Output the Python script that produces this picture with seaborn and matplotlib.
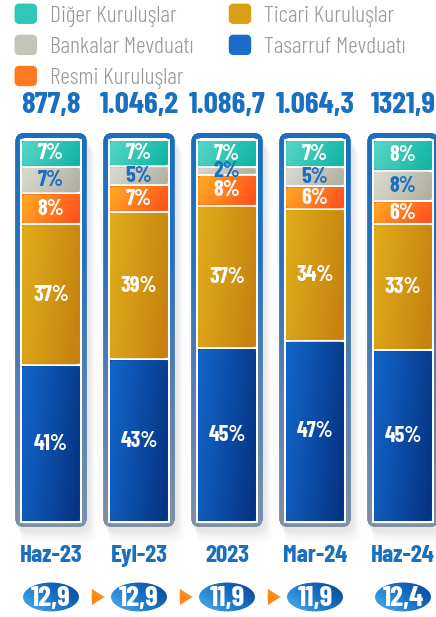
import numpy as np
import pandas as pd
import matplotlib
matplotlib.use("Agg")
import matplotlib.pyplot as plt
import seaborn as sns
from matplotlib.patches import FancyBboxPatch, Ellipse, Patch
from matplotlib.colors import LinearSegmentedColormap
from matplotlib.legend_handler import HandlerPatch

# ---------------- data ----------------
periods = ["Haz-23", "Eyl-23", "2023", "Mar-24", "Haz-24"]
totals = ["877,8", "1.046,2", "1.086,7", "1.064,3", "1321,9"]
ratios = [12.9, 12.9, 11.9, 11.9, 12.4]
# segments listed bottom -> top
tasarruf = [41, 43, 45, 47, 45]
ticari = [37, 39, 37, 34, 33]
resmi = [8, 7, 8, 6, 6]
bankalar = [7, 5, 2, 5, 8]
diger = [7, 7, 7, 7, 8]

seg_names = ["Tasarruf Mevduatı", "Ticari Kuruluşlar", "Resmi Kuruluşlar",
             "Bankalar Mevduatı", "Diğer Kuruluşlar"]
seg_values = [tasarruf, ticari, resmi, bankalar, diger]
seg_colors = ["#0b4db0", "#d49a12", "#ff6a1e", "#c9c9bd", "#22c2b2"]
seg_grad = [("#1268cc", "#06307f"), ("#e2ae1c", "#c47e0e"), ("#ffae22", "#ff4a1e"),
            ("#dcdcd2", "#aeae9e"), ("#5ad8c8", "#0cb2a2")]
seg_text = ["white", "white", "white", "#1a6fc0", "white"]
legend_colors = ["#1a6cc8", "#d9a015", "#ff7a22", "#c4c4b8", "#2ec8b8"]

BLUE = "#1a6fc0"
FONT = ["Barlow Condensed", "DejaVu Sans"]

sns.set_theme(style="white")
plt.rcParams["font.family"] = FONT

W, H = 436, 617
fig = plt.figure(figsize=(W / 100, H / 100), dpi=100)
ax = fig.add_axes([0, 0, 1, 1])

# pixel geometry -> data limits
x0px, dxpx = 51, 88
y0px, ytop = 522, 140
ppu = (y0px - ytop) / 100.0
xlim = (-x0px / dxpx, (W - x0px) / dxpx)
ylim = (-(H - y0px) / ppu, (y0px) / ppu)
aspect = dxpx / ppu  # y-units per x-unit for equal pixel sizes

df = pd.DataFrame({"period": periods})
vals = np.array(seg_values, dtype=float)
norm = vals / vals.sum(axis=0) * 100.0
cum = np.cumsum(norm, axis=0)

bw = 0.675
n = len(periods)
xs = np.arange(n)

# frames + shadows
fhw = 0.405
fy0, fy1 = -5 / ppu, 100 + 7 / ppu
ihw = 0.352
iy0, iy1 = -1.2 / ppu, 100 + 2 / ppu
for i in xs:
    fx0, fx1 = i - fhw, i + fhw
    for k, a in enumerate([0.06, 0.05, 0.04, 0.03]):
        sh = FancyBboxPatch((fx0 + 0.02 + k * 0.015, fy0 - 1.5 - k * 0.9),
                            (fx1 - fx0) + 0.02 + k * 0.01, (fy1 - fy0),
                            boxstyle="round,pad=0,rounding_size=0.12", mutation_aspect=aspect,
                            fc="#808080", ec="none", alpha=a, zorder=1)
        ax.add_patch(sh)
    frame = FancyBboxPatch((fx0, fy0), fx1 - fx0, fy1 - fy0,
                           boxstyle="round,pad=0,rounding_size=0.1", mutation_aspect=aspect,
                           fc=BLUE, ec="none", zorder=2)
    ax.add_patch(frame)
    cmap = LinearSegmentedColormap.from_list("fr", ["#8090a6", "#5a80b0", "#2a72bd", BLUE])
    grad = np.linspace(0, 1, 256).reshape(-1, 1)
    im = ax.imshow(grad, extent=[fx0, fx1, fy0, fy1], origin="lower", cmap=cmap,
                   aspect="auto", zorder=2.1)
    im.set_clip_path(frame)
    inner = FancyBboxPatch((i - ihw, iy0), 2 * ihw, iy1 - iy0,
                           boxstyle="round,pad=0,rounding_size=0.065", mutation_aspect=aspect,
                           fc="white", ec="none", zorder=2.5)
    ax.add_patch(inner)

# stacked bars: draw cumulative layers from top to bottom with seaborn
for k in range(len(seg_names) - 1, -1, -1):
    df["h"] = cum[k]
    sns.barplot(data=df, x="period", y="h", color=seg_colors[k], width=bw,
                saturation=1, edgecolor="white", linewidth=1.4, ax=ax, zorder=3 + (5 - k) * 0.1)

# gradients over the segments, labels
for k in range(len(seg_names)):
    c0, c1 = seg_grad[k]
    cmap = LinearSegmentedColormap.from_list("s%d" % k, [c0, c1])
    gx = np.linspace(0, 1, 64)
    gy = np.linspace(0, 1, 32)
    G = gx[None, :] * 0.8 + (1 - gy[:, None]) * 0.2
    for i in xs:
        bot = cum[k - 1][i] if k > 0 else 0.0
        top = cum[k][i]
        rect = FancyBboxPatch((i - bw / 2 + 0.01, bot + 0.3), bw - 0.02, top - bot - 0.6,
                              boxstyle="round,pad=0,rounding_size=0.045", mutation_aspect=aspect,
                              fc="none", ec="none", transform=ax.transData)
        ax.add_patch(rect)
        im = ax.imshow(G, extent=[i - bw / 2, i + bw / 2, top, bot], cmap=cmap,
                       aspect="auto", zorder=4, interpolation="bilinear")
        im.set_clip_path(rect)
        ax.text(i, (bot + top) / 2, f"{seg_values[k][i]}%", ha="center", va="center",
                color=seg_text[k], fontsize=16, fontweight="bold", zorder=6, family=FONT)

# totals on top and period labels
for i in xs:
    ax.text(i, (y0px - 105) / ppu, totals[i], ha="center", va="center", color=BLUE,
            fontsize=22.5, fontweight="bold", family=FONT, zorder=6)
    ax.text(i, -(556 - y0px) / ppu, periods[i], ha="center", va="center", color=BLUE,
            fontsize=18, fontweight="bold", family=FONT, zorder=6)

# ratio ovals
oy = -(597 - y0px) / ppu
for i in xs:
    e = Ellipse((i, oy), 0.66, 31 / ppu, fc="#1565c0", ec="none", zorder=5)
    ax.add_patch(e)
    cmap = LinearSegmentedColormap.from_list("ov", ["#58b4f0", "#1a74c8", "#0a3e96"])
    gx = np.linspace(0, 1, 64)
    G = gx[None, :] * 0.6 + np.linspace(1, 0, 32)[:, None] * 0.4
    im = ax.imshow(G, extent=[i - 0.33, i + 0.33, oy - 16 / ppu, oy + 16 / ppu], cmap=cmap,
                   aspect="auto", zorder=5.1, interpolation="bilinear")
    im.set_clip_path(e)
    ax.add_patch(Ellipse((i, oy), 0.66, 31 / ppu, fc="none", ec="white", lw=1.5, zorder=5.2))
    ax.text(i, oy - 0.3, f"{ratios[i]:.1f}".replace(".", ","), ha="center", va="center",
            color="white", fontsize=21, fontweight="bold", family=FONT, zorder=6)

for i in range(3):
    ax.annotate("", xy=(i + 0.64, oy), xytext=(i + 0.43, oy),
                arrowprops=dict(arrowstyle="simple,head_width=0.9,head_length=0.7,tail_width=0.35",
                                fc="#ff8a1c", ec="none", mutation_scale=13), zorder=6)


# legend with rounded square handles
class RoundHandler(HandlerPatch):
    def create_artists(self, legend, orig_handle, xdescent, ydescent, width, height,
                       fontsize, trans):
        p = FancyBboxPatch((-xdescent, -ydescent), width, height,
                           boxstyle="round,pad=0,rounding_size=3.5",
                           fc=orig_handle.get_facecolor(), ec="none", transform=trans)
        return [p]


order = [4, 3, 2, 1, 0]
handles = [Patch(fc=legend_colors[k], ec="none", label=seg_names[k]) for k in order]
leg = fig.legend(handles=handles, loc="upper left", bbox_to_anchor=(0.028, 0.998), ncol=2,
                 frameon=False, handlelength=0.95, handleheight=0.95,
                 handletextpad=0.55, labelspacing=0.33, columnspacing=1.5,
                 borderpad=0.1, borderaxespad=0.0,
                 handler_map={Patch: RoundHandler()},
                 prop={"family": FONT, "size": 17, "weight": 300})
for t in leg.get_texts():
    t.set_color("#999999")

ax.set_xlim(*xlim)
ax.set_ylim(*ylim)
ax.axis("off")
fig.savefig("out.png", dpi=100)
